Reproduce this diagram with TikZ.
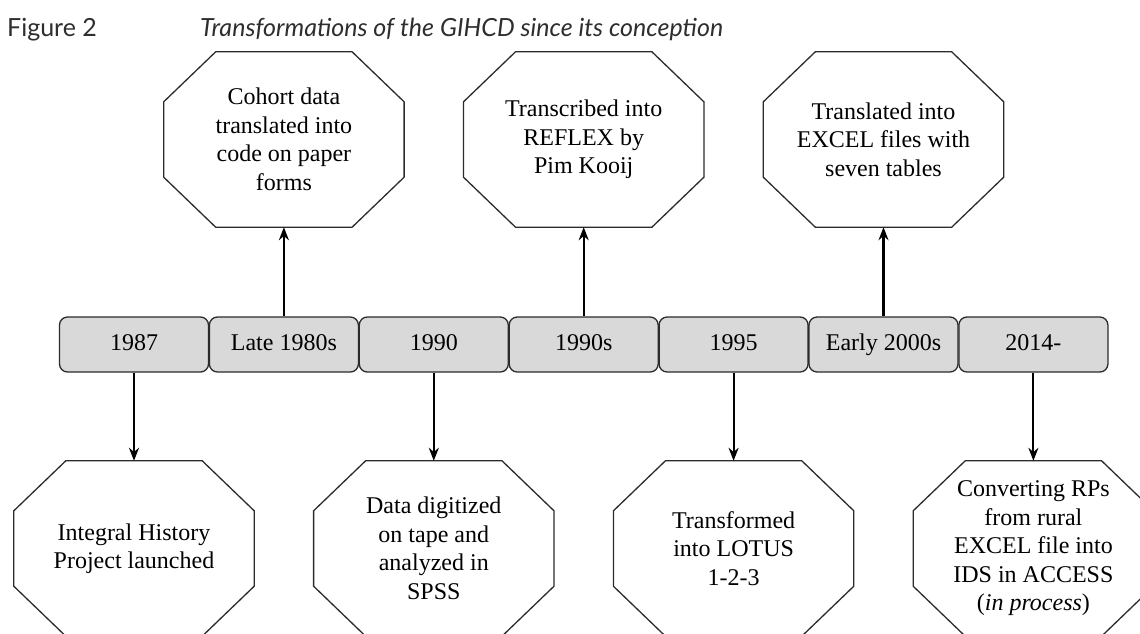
\documentclass[tikz,border=0pt]{standalone}
\usepackage{fontspec}
\setmainfont{Liberation Serif}
\newfontfamily\titlefont{Lato}
\usetikzlibrary{arrows.meta}
\definecolor{boxgray}{HTML}{D9D9D9}
\definecolor{edgecol}{HTML}{2B2B2B}
\definecolor{titlegray}{HTML}{2E2E2E}
\tikzset{
  yearbox/.style={draw=edgecol, line width=1.3pt, fill=boxgray, rounded corners=8pt,
    minimum width=149pt, minimum height=55pt, inner sep=0pt,
    text height=16.5pt, text depth=5.5pt,
    font=\fontsize{24}{29}\selectfont},
  octnode/.style={minimum width=240pt, minimum height=175pt, inner sep=0pt,
    align=center, font=\fontsize{24}{28.5}\selectfont},
  octline/.style={draw=edgecol, line width=1.3pt, line join=miter},
  link/.style={line width=2.1pt, -{Stealth[length=13pt,width=10pt]}},
  titletext/.style={anchor=base west, inner sep=0pt, text=titlegray,
    font=\titlefont\fontsize{25}{30}\selectfont},
}
\begin{document}
\begin{tikzpicture}[x=1pt,y=-1pt]
\useasboundingbox (0,0) rectangle (1140,633);
\clip (0,0) rectangle (1140,633);
\node[titletext] (fig) at (7,36) {Figure 2};
\node[titletext] (title) at (200,36) {\itshape Transformations of the GIHCD since its conception};

\node[yearbox] (y1) at (134,344.5) {1987};
\node[yearbox] (y2) at (283.9,344.5) {Late 1980s};
\node[yearbox] (y3) at (433.8,344.5) {1990};
\node[yearbox] (y4) at (583.7,344.5) {1990s};
\node[yearbox] (y5) at (733.6,344.5) {1995};
\node[yearbox] (y6) at (883.5,344.5) {Early 2000s};
\node[yearbox] (y7) at (1033.4,344.5) {2014-};

\node[octnode] (o1) at (134,548.5) {Integral History\\Project launched};
\node[octnode] (o2) at (283.9,139.5) {Cohort data\\translated into\\code on paper\\forms};
\node[octnode] (o3) at (433.8,548.5) {Data digitized\\on tape and\\analyzed in\\SPSS};
\node[octnode] (o4) at (583.7,139.5) {Transcribed into\\REFLEX by\\Pim Kooij};
\node[octnode] (o5) at (733.6,548.5) {Transformed\\into LOTUS\\1-2-3};
\node[octnode] (o6) at (883.5,139.5) {Translated into\\EXCEL files with\\seven tables};
\node[octnode] (o7) at (1033.4,548.5) {Converting RPs\\from rural\\EXCEL file into\\IDS in ACCESS\\(\textit{in process})};

\foreach \n in {o1,o2,o3,o4,o5,o6,o7}
  \draw[octline] ([xshift=52pt]\n.north west) -- ([xshift=-52pt]\n.north east)
    -- ([yshift=-50pt]\n.north east) -- ([yshift=50pt]\n.south east)
    -- ([xshift=-52pt]\n.south east) -- ([xshift=52pt]\n.south west)
    -- ([yshift=50pt]\n.south west) -- ([yshift=-50pt]\n.north west) -- cycle;

\draw[link] (y1.south) -- (o1.north);
\draw[link] (y2.north) -- (o2.south);
\draw[link] (y3.south) -- (o3.north);
\draw[link] (y4.north) -- (o4.south);
\draw[link] (y5.south) -- (o5.north);
\draw[link] (y6.north) -- (o6.south);
\draw[link] (y7.south) -- (o7.north);
\end{tikzpicture}
\end{document}
